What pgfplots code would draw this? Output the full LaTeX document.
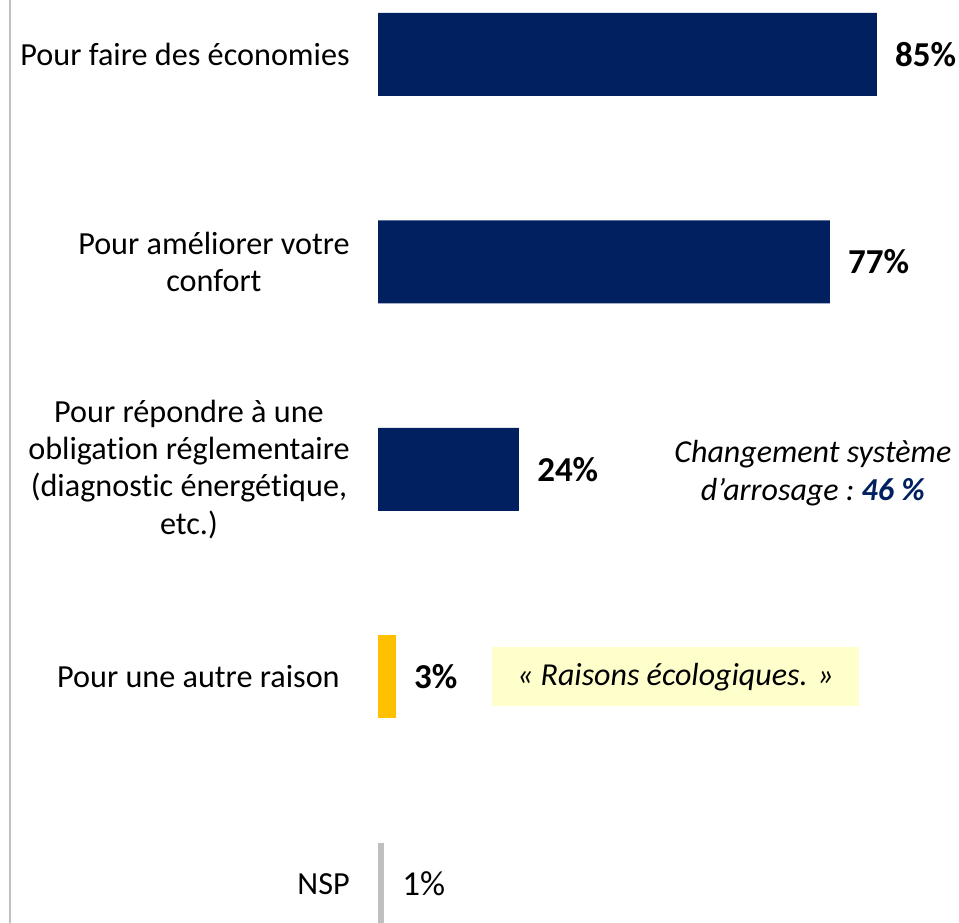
\documentclass[border=0pt]{standalone}
\usepackage{fontspec}
\setmainfont{Carlito}[Ligatures=NoCommon]
\usepackage{pgfplots}
\pgfplotsset{compat=1.18}
\definecolor{navy}{HTML}{002060}
\definecolor{barYellow}{HTML}{FFC000}
\definecolor{barGray}{HTML}{BFBFBF}
\definecolor{lineGray}{HTML}{C0C0C0}
\definecolor{boxYellow}{HTML}{FFFFCC}
\begin{document}
\begin{tikzpicture}
\begin{axis}[
  xbar, bar shift=0pt, bar width=41.5pt,
  scale only axis, width=479.5pt, height=461.5pt,
  xmin=-64.4, xmax=98.98,
  ymin=-0.2627, ymax=4.1855, y dir=reverse,
  ytick={0,1,2,3,4},
  yticklabels={{Pour faire des économies},{Pour améliorer votre\\confort},{Pour répondre à une\\obligation réglementaire\\(diagnostic énergétique,\\etc.)},{Pour une autre raison\hspace{5pt}},{NSP}},
  yticklabel style={anchor=east, inner sep=0pt, xshift=175pt, align=center, font=\fontsize{16.1}{18.75}\selectfont},
  xtick=\empty, major tick length=0pt,
  axis line style={draw=none},
  /pgf/number format/assume math mode=true,
  point meta=x,
  nodes near coords={\pgfmathprintnumber{\pgfplotspointmeta}\%},
  every node near coord/.append style={anchor=west, inner sep=0pt, xshift=9pt, font=\fontsize{17.5}{21}\selectfont\bfseries, text=black},
]
\addplot[fill=navy, draw=none] coordinates {(85,0) (77,1) (24,2)};
\addplot[fill=barYellow, draw=none] coordinates {(3,3)};
\addplot[fill=barGray, draw=none, every node near coord/.append style={font=\fontsize{17.5}{21}\selectfont}] coordinates {(1,4)};
\draw[color=lineGray, line width=1pt] (rel axis cs:0.0104,0) -- (rel axis cs:0.0104,1);
\node[align=center, font=\fontsize{16}{19}\selectfont\itshape] at (axis cs:74.1,2.02) {Changement système\\d’arrosage :~\textcolor{navy}{\bfseries 46~\%}};
\node[fill=boxYellow, minimum width=183.5pt, minimum height=29.5pt, inner sep=0pt, font=\fontsize{16}{19}\selectfont\itshape] at (axis cs:50.68,3.0) {« Raisons écologiques. »};
\end{axis}
\end{tikzpicture}
\end{document}
